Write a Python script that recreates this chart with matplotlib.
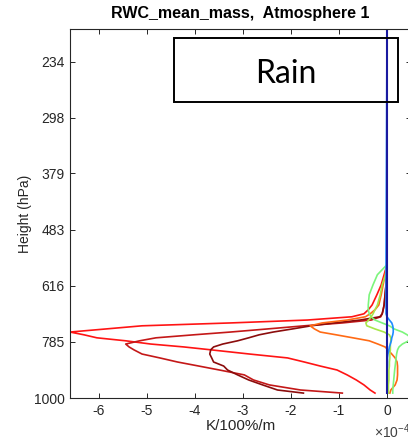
import numpy as np
import matplotlib
matplotlib.use('Agg')
import matplotlib.pyplot as plt
from matplotlib.patches import Rectangle

plt.rcParams['font.family'] = ['Liberation Sans', 'DejaVu Sans']
plt.rcParams['mathtext.default'] = 'regular'

# pressure levels (hPa), top of model down to the surface
pressure = [203, 562, 587, 613, 640, 669, 683, 695, 704, 714, 723, 732, 742, 752,
            761, 771, 781, 792, 802, 812, 827, 841, 856, 871, 886, 905, 925,
            945, 966, 979]

# RWC mean-mass jacobians, units of 1e-4 K/100%/m
rwc_a = [0, 0, -0.06, -0.12, -0.21, -0.31, -0.39, -0.48, -0.73, -1.66, -3.26, -5.10,
         -5.85, -6.60, -6.31, -6.04, -5.44, -4.92, -4.23, -3.67, -2.86, -2.07,
         -1.72, -1.39, -1.04, -0.83, -0.64, -0.48, -0.35, -0.25]
rwc_b = [0, 0, -0.01, -0.02, -0.04, -0.06, -0.08, -0.10, -0.13, -0.33, -0.93, -1.72,
         -2.49, -3.26, -4.02, -4.81, -5.15, -5.44, -5.37, -5.27, -5.10, -4.73,
         -4.36, -3.92, -3.49, -2.97, -2.78, -2.45, -1.80, -0.93]
rwc_c = [0, 0, -0.01, -0.02, -0.04, -0.06, -0.08, -0.10, -0.15, -0.56, -1.10, -1.58,
         -1.97, -2.37, -2.66, -2.88, -3.11, -3.42, -3.61, -3.67, -3.69, -3.65,
         -3.61, -3.40, -3.32, -3.11, -2.88, -2.59, -2.28, -1.74]
rwc_d = [0, 0, -0.04, -0.08, -0.12, -0.17, -0.25, -0.35, -0.45, -0.83, -1.35, -1.60,
         -1.51, -1.39, -1.06, -0.71, -0.37, -0.19, -0.04, 0.02, 0.10, 0.17,
         0.21, 0.22, 0.22, 0.22, 0.21, 0.17, 0.08, 0.06]
rwc_e = [0, 0, -0.20, -0.29, -0.37, -0.39, -0.39, -0.37, -0.33, -0.25, -0.10, 0.05,
         0.15, 0.32, 0.42, 0.50, 0.45, 0.32, 0.25, 0.22, 0.20, 0.19,
         0.18, 0.17, 0.16, 0.15, 0.14, 0.13, 0.12, 0.12]
rwc_f = [0, 0, -0.03, -0.10, -0.14, -0.20, -0.25, -0.29, -0.33, -0.38, -0.44, -0.42,
         -0.25, -0.06, 0.05, 0.08, 0.08, 0.07, 0.07, 0.07, 0.06, 0.06,
         0.05, 0.05, 0.04, 0.04, 0.04, 0.03, 0.03, 0.03]
rwc_g = [0, -0.02, -0.02, -0.02, -0.02, -0.02, -0.02, -0.02, 0.0, 0.05, 0.10, 0.12,
         0.13, 0.13, 0.12, 0.10, 0.09, 0.07, 0.05, 0.04, 0.02, 0.01,
         0.01, 0.01, 0.0, 0.0, 0.0, 0.0, 0.0, 0.0]
rwc_h = [0] * len(pressure)

profiles = [rwc_a, rwc_b, rwc_c, rwc_d, rwc_e, rwc_f, rwc_g, rwc_h]
colors = ['#ff1414', '#c41818', '#8b0c0c', '#ff6a14', '#7cf57c', '#a8e64a',
          '#1e8cff', '#1a1aa0']

ytick_vals = [234, 298, 379, 483, 616, 785, 1000]

fig = plt.figure(figsize=(4.08, 4.38), dpi=100)
ax = fig.add_axes([70 / 408, 40 / 438, 341 / 408, 369 / 438])

for prof, col in zip(profiles, colors):
    lw = 1.5 if col == '#1a1aa0' else 1.2
    ax.plot(prof, pressure, color=col, lw=lw)

ax.set_yscale('log')
ax.set_ylim(1000, 203)
ax.set_xlim(-6.6, 0.5)
ax.set_yticks(ytick_vals)
ax.set_yticklabels([str(v) for v in ytick_vals])
ax.yaxis.set_minor_locator(matplotlib.ticker.NullLocator())
ax.set_xticks(range(-6, 1))
ax.set_xticklabels([str(v) for v in range(-6, 1)])

ax.tick_params(direction='in', length=3.5, width=0.7, colors='#262626',
               labelsize=10, top=True, right=True, pad=4)
for s in ax.spines.values():
    s.set_color('#262626')
    s.set_linewidth(0.8)

ax.set_title('RWC_mean_mass,  Atmosphere 1', fontsize=11.5, fontweight='bold', pad=8)
ax.set_ylabel('Height (hPa)', fontsize=10, color='#262626', labelpad=1)
ax.set_xlabel('K/100%/m', fontsize=11, color='#262626', labelpad=1)
fig.text(374 / 408, 1 - 432 / 438, r'$\times10^{-4}$', fontsize=10,
         color='#404040', va='center', ha='left')

# label box for the hydrometeor type
fig.patches.append(Rectangle((174 / 408, 1 - 102 / 438), 224 / 408, 64 / 438,
                             transform=fig.transFigure, fill=False,
                             edgecolor='black', lw=1.4))
fig.text(286 / 408, 1 - 74 / 438, 'Rain', fontsize=23, family='Lato',
         ha='center', va='center')

fig.savefig('out.png', dpi=100)
